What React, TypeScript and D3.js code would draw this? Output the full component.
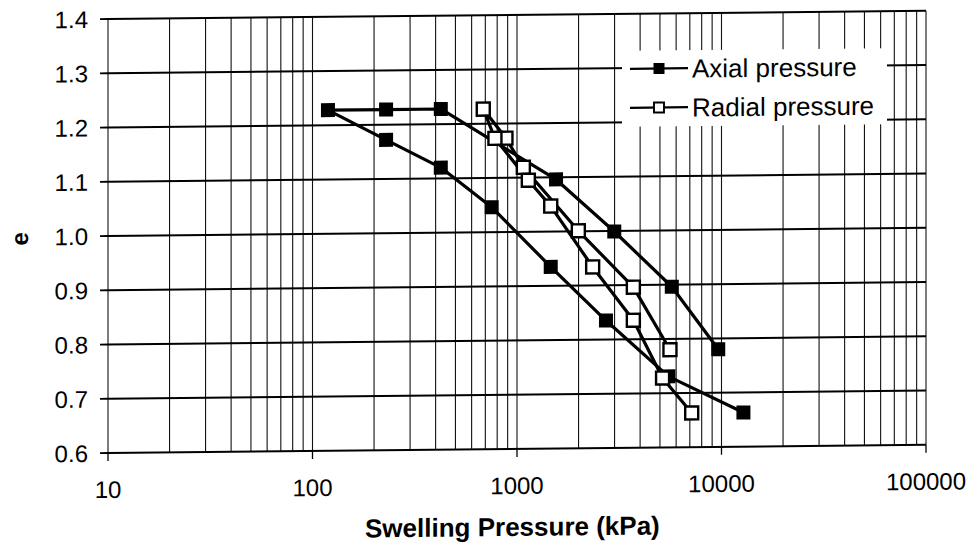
import React from "react";
import * as d3 from "d3";

const axialP = [9640, 5715, 2990, 1552, 424, 229, 119, 229, 424, 752, 1462, 2723, 5500, 12800];
const axialE = [0.78, 0.896, 0.999, 1.096, 1.228, 1.228, 1.228, 1.172, 1.12, 1.046, 0.935, 0.835, 0.731, 0.663];
const radialP = [5597, 3706, 1995, 1074, 883, 684, 780, 1136, 1462, 2344, 3706, 5150, 7150];
const radialE = [0.78, 0.896, 1.001, 1.119, 1.173, 1.227, 1.173, 1.095, 1.047, 0.934, 0.835, 0.728, 0.663];

const yTicks = [0.6, 0.7, 0.8, 0.9, 1.0, 1.1, 1.2, 1.3, 1.4];
const yTickLabels = ["0.6", "0.7", "0.8", "0.9", "1.0", "1.1", "1.2", "1.3", "1.4"];
const xTicks = [10, 100, 1000, 10000, 100000];
const xTickLabels = ["10", "100", "1000", "10000", "100000"];
const seriesNames = ["Axial pressure", "Radial pressure"];

const FONT = "'Liberation Sans', Arial, Helvetica, sans-serif";

export default function App() {
  const W = 978, H = 552;
  const left = 108, right = 926, top = 19, bottom = 453;
  const x = d3.scaleLog().domain([10, 100000]).range([left, right]);
  const y = d3.scaleLinear().domain([0.6, 1.4]).range([bottom, top]);

  const minor: number[] = [];
  for (let dec = 10; dec < 100000; dec *= 10) {
    for (let k = 1; k < 10; k++) minor.push(dec * k);
  }
  minor.push(100000);

  const line = d3.line<[number, number]>().x((d) => x(d[0])).y((d) => y(d[1]));
  const axialPts: [number, number][] = axialP.map((p, i) => [p, axialE[i]]);
  const radialPts: [number, number][] = radialP.map((p, i) => [p, radialE[i]]);
  const ms = 14;
  const mo = 13;

  // slight scan tilt of the original page
  const skew = `translate(0,1.08) skewY(-0.573)`;

  const legX = 622, legY = 56, legW = 265, legH = 76;
  const l1 = 74, l2 = 113;

  return (
    <svg width={W} height={H} style={{ position: "absolute", left: 0, top: 0, background: "#fff" }} fontFamily={FONT}>
      <rect x={0} y={0} width={W} height={H} fill="#fff" />
      <g transform={skew}>
        {/* vertical grid */}
        {minor.map((v, i) => (
          <line key={"v" + i} x1={x(v)} x2={x(v)} y1={top} y2={bottom} stroke="#111" strokeWidth={1.1} />
        ))}
        {/* horizontal grid */}
        {yTicks.map((v, i) => (
          <line key={"h" + i} x1={left} x2={right} y1={y(v)} y2={y(v)} stroke="#000" strokeWidth={1.9} />
        ))}
        {/* y tick marks */}
        {yTicks.map((v, i) => (
          <line key={"yt" + i} x1={left - 8} x2={left} y1={y(v)} y2={y(v)} stroke="#000" strokeWidth={1.9} />
        ))}
        {/* x tick marks */}
        {xTicks.map((v, i) => (
          <line key={"xt" + i} x1={x(v)} x2={x(v)} y1={bottom} y2={bottom + 8} stroke="#000" strokeWidth={1.3} />
        ))}
        {/* y labels */}
        {yTicks.map((v, i) => (
          <text key={"yl" + i} x={88} y={y(v)} dy="0.36em" textAnchor="end" fontSize={24} fill="#000">
            {yTickLabels[i]}
          </text>
        ))}
        {/* x labels */}
        {xTicks.map((v, i) => (
          <text key={"xl" + i} x={x(v)} y={498} textAnchor="middle" fontSize={24} fill="#000">
            {xTickLabels[i]}
          </text>
        ))}
        {/* axis titles */}
        <text x={365} y={540} fontSize={26} fontWeight="bold" fill="#000">
          Swelling Pressure (kPa)
        </text>
        <text transform={`translate(28,${(top + bottom) / 2 + 2}) rotate(-90)`} textAnchor="middle" fontSize={24} fontWeight="bold" fill="#000">
          e
        </text>

        {/* legend background */}
        <rect x={legX} y={legY} width={legW} height={legH} fill="#fff" />
        {/* legend entries */}
        <line x1={630} x2={688} y1={l1} y2={l1} stroke="#000" strokeWidth={2.2} />
        <rect x={659 - 5.5} y={l1 - 5.5} width={11} height={11} fill="#000" />
        <text x={692} y={l1} dy="0.36em" fontSize={26} fill="#000">
          {seriesNames[0]}
        </text>
        <line x1={630} x2={688} y1={l2} y2={l2} stroke="#000" strokeWidth={2.2} />
        <rect x={659 - 5} y={l2 - 5} width={10} height={10} fill="#fff" stroke="#000" strokeWidth={1.9} />
        <text x={692} y={l2} dy="0.36em" fontSize={26} fill="#000">
          {seriesNames[1]}
        </text>

        {/* axial series */}
        <path d={line(axialPts) || ""} fill="none" stroke="#000" strokeWidth={3.2} strokeLinejoin="round" />
        {axialPts.map((d, i) => (
          <rect key={"a" + i} x={x(d[0]) - ms / 2} y={y(d[1]) - ms / 2} width={ms} height={ms} fill="#000" />
        ))}
        {/* radial series */}
        <path d={line(radialPts) || ""} fill="none" stroke="#000" strokeWidth={3.2} strokeLinejoin="round" />
        {radialPts.map((d, i) => (
          <rect key={"r" + i} x={x(d[0]) - mo / 2} y={y(d[1]) - mo / 2} width={mo} height={mo} fill="#fff" stroke="#000" strokeWidth={2.4} />
        ))}
      </g>
    </svg>
  );
}
